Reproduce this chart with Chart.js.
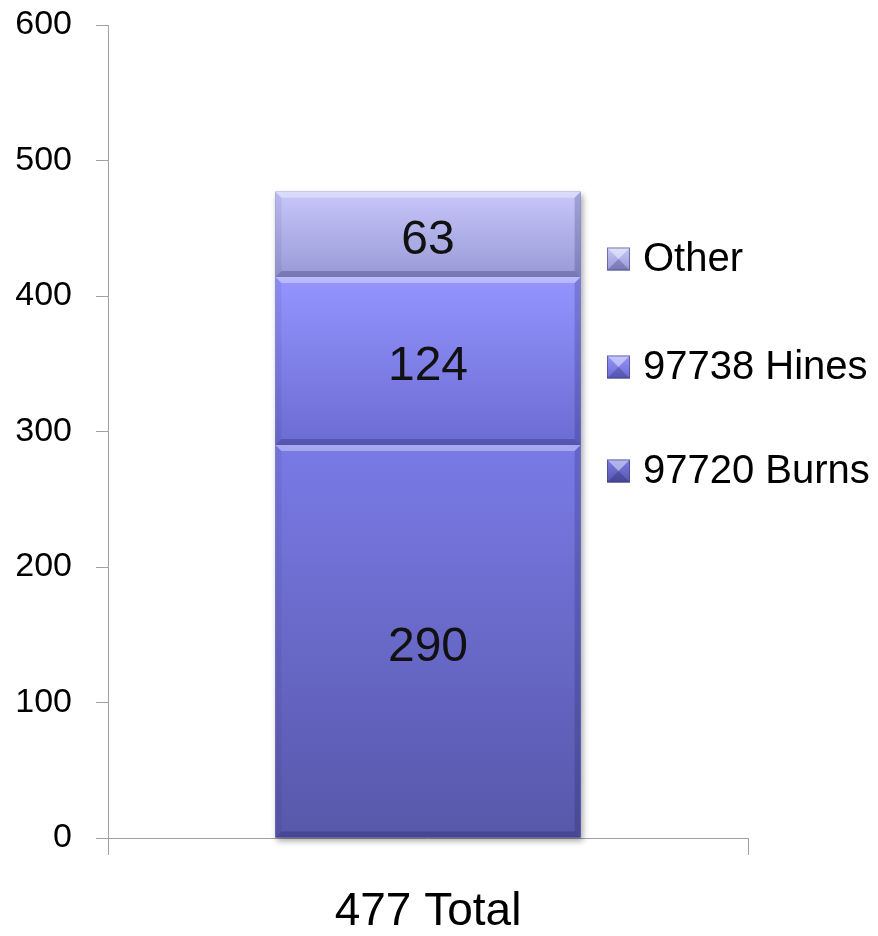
<!DOCTYPE html>
<html>
<head>
<meta charset="utf-8">
<script src="https://cdn.jsdelivr.net/npm/chart.js@4.4.0/dist/chart.umd.min.js"></script>
<style>
  html, body { margin: 0; padding: 0; background: #fff; }
  #wrap { position: relative; width: 878px; height: 936px; }
</style>
</head>
<body>
<div id="wrap"><canvas id="chart" width="878" height="936"></canvas></div>
<script>
// chart data
const categories = ['477 Total'];
const seriesNames = ['97720 Burns', '97738 Hines', 'Other'];
const burnsValues = [290];
const hinesValues = [124];
const otherValues = [63];
const yTicks = [0, 100, 200, 300, 400, 500, 600];

// top / bottom gradient colours for each series
const seriesColors = [
  ['#7a7ae6', '#5757aa'],
  ['#9595ff', '#6b6bd2'],
  ['#c7c7fb', '#9999d6']
];

const FONT = "'Liberation Sans', Arial, sans-serif";

function segmentGradient(ctx, i) {
  const chart = ctx.chart;
  const y = chart.scales && chart.scales.y;
  if (!y || !chart.chartArea) return seriesColors[i][0];
  let lower = 0;
  for (let k = 0; k < i; k++) lower += chart.data.datasets[k].data[ctx.dataIndex || 0];
  const upper = lower + chart.data.datasets[i].data[ctx.dataIndex || 0];
  const g = chart.ctx.createLinearGradient(0, y.getPixelForValue(upper), 0, y.getPixelForValue(lower));
  g.addColorStop(0, seriesColors[i][0]);
  g.addColorStop(1, seriesColors[i][1]);
  return g;
}

// bevel edges + value labels on every bar piece
const bevelPlugin = {
  id: 'bevel',
  beforeDatasetsDraw(chart) {
    const c = chart.ctx;
    const meta = chart.getDatasetMeta(0);
    const top = chart.getDatasetMeta(chart.data.datasets.length - 1).data[0];
    const el = meta.data[0];
    c.save();
    c.shadowColor = 'rgba(0,0,0,0.35)';
    c.shadowBlur = 6;
    c.shadowOffsetX = 2;
    c.shadowOffsetY = 3;
    c.fillStyle = '#6060b0';
    c.fillRect(el.x - el.width / 2, top.y, el.width, el.base - top.y);
    c.restore();
  },
  afterDatasetsDraw(chart) {
    const c = chart.ctx;
    const b = 6;
    chart.data.datasets.forEach(function(ds, i) {
      chart.getDatasetMeta(i).data.forEach(function(el, j) {
        const l = el.x - el.width / 2, r = el.x + el.width / 2;
        const t = el.y, bt = el.base;
        c.save();
        // top highlight
        c.fillStyle = 'rgba(255,255,255,0.35)';
        c.beginPath();
        c.moveTo(l, t); c.lineTo(r, t); c.lineTo(r - b, t + b); c.lineTo(l + b, t + b);
        c.closePath(); c.fill();
        // bottom shade
        c.fillStyle = 'rgba(20,20,80,0.25)';
        c.beginPath();
        c.moveTo(l, bt); c.lineTo(r, bt); c.lineTo(r - b, bt - b); c.lineTo(l + b, bt - b);
        c.closePath(); c.fill();
        // sides
        c.fillStyle = 'rgba(20,20,80,0.08)';
        c.beginPath();
        c.moveTo(l, t); c.lineTo(l + b, t + b); c.lineTo(l + b, bt - b); c.lineTo(l, bt);
        c.closePath(); c.fill();
        c.fillStyle = 'rgba(20,20,80,0.2)';
        c.beginPath();
        c.moveTo(r, t); c.lineTo(r - b, t + b); c.lineTo(r - b, bt - b); c.lineTo(r, bt);
        c.closePath(); c.fill();
        // value
        c.fillStyle = '#111';
        c.font = '48px ' + FONT;
        c.textAlign = 'center';
        c.textBaseline = 'middle';
        c.fillText(String(ds.data[j]), el.x, (t + bt) / 2 + 6);
        c.restore();
      });
    });
  }
};

// legend drawn on the right, overlapping the plot like the original
const legendPlugin = {
  id: 'sideLegend',
  afterDraw(chart) {
    const c = chart.ctx;
    const rows = [259, 367, 471];
    const order = chart.data.datasets.map(function(d, i) { return i; }).reverse();
    order.forEach(function(i, n) {
      const cy = rows[n];
      const x = 607, s = 23, y = cy - s / 2;
      c.save();
      const g = c.createLinearGradient(0, y, 0, y + s);
      g.addColorStop(0, seriesColors[i][0]);
      g.addColorStop(1, seriesColors[i][1]);
      c.fillStyle = g;
      c.fillRect(x, y, s, s);
      c.fillStyle = 'rgba(255,255,255,0.45)';
      c.beginPath(); c.moveTo(x, y); c.lineTo(x + s, y); c.lineTo(x + s / 2, y + s / 2); c.closePath(); c.fill();
      c.fillStyle = 'rgba(20,20,80,0.25)';
      c.beginPath(); c.moveTo(x, y + s); c.lineTo(x + s, y + s); c.lineTo(x + s / 2, y + s / 2); c.closePath(); c.fill();
      c.strokeStyle = 'rgba(60,60,120,0.6)';
      c.strokeRect(x + 0.5, y + 0.5, s - 1, s - 1);
      c.fillStyle = '#000';
      c.font = '40px ' + FONT;
      c.textAlign = 'left';
      c.textBaseline = 'middle';
      c.fillText(chart.data.datasets[i].label, 643, cy + 1);
      c.restore();
    });
  }
};

const valueSets = [burnsValues, hinesValues, otherValues];

new Chart(document.getElementById('chart'), {
  type: 'bar',
  data: {
    labels: categories,
    datasets: seriesNames.map(function(name, i) {
      return {
        label: name,
        data: valueSets[i],
        backgroundColor: function(ctx) { return segmentGradient(ctx, i); },
        borderWidth: 0,
        categoryPercentage: 1,
        barPercentage: 0.477
      };
    })
  },
  options: {
    responsive: false,
    animation: false,
    devicePixelRatio: 1,
    layout: { padding: { left: 0, right: 130, top: 25, bottom: 0 } },
    plugins: {
      legend: { display: false },
      tooltip: { enabled: false }
    },
    scales: {
      x: {
        stacked: true,
        afterFit: function(scale) { scale.height = 98; },
        border: { color: '#a0a0a0', width: 1 },
        grid: { display: true, drawOnChartArea: false, drawTicks: true, tickLength: 17, color: '#a0a0a0' },
        ticks: { color: '#000', padding: 30, font: { family: FONT, size: 46 } }
      },
      y: {
        stacked: true,
        min: 0,
        max: 600,
        afterFit: function(scale) {
          scale.width = 108;
          scale.paddingTop = 0;
          scale.paddingBottom = 0;
        },
        afterBuildTicks: function(scale) { scale.ticks = yTicks.map(function(v) { return { value: v }; }); },
        border: { color: '#a0a0a0', width: 1 },
        grid: { display: true, drawOnChartArea: false, drawTicks: true, tickLength: 12, color: '#a0a0a0' },
        ticks: { color: '#000', padding: 24, font: { family: FONT, size: 34 } }
      }
    }
  },
  plugins: [bevelPlugin, legendPlugin]
});
</script>
</body>
</html>
